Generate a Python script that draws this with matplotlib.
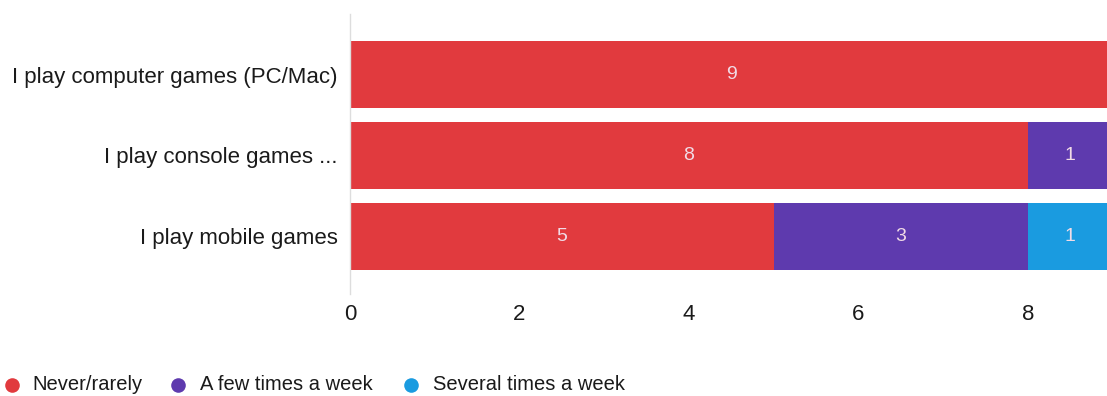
import matplotlib
matplotlib.use("Agg")
import matplotlib.pyplot as plt
from matplotlib.lines import Line2D

categories = ["I play computer games (PC/Mac)", "I play console games ...", "I play mobile games"]
series_names = ["Never/rarely", "A few times a week", "Several times a week"]
never = [9, 8, 5]
few = [0, 1, 3]
several = [0, 0, 1]
colors = ["#E13A3E", "#5E3AAE", "#1A9BE0"]
xticks = [0, 2, 4, 6, 8]

plt.rcParams['font.family'] = ['Liberation Sans', 'DejaVu Sans']

W, H = 1107, 396
fig = plt.figure(figsize=(W/100, H/100), dpi=100)
ax = fig.add_axes([350/W, 1 - 294/H, (W-350)/W, 280/H])

ypos = list(range(len(categories)))
left = [0]*len(categories)
for vals, col in zip([never, few, several], colors):
    ax.barh(ypos, vals, left=left, height=0.83, color=col, edgecolor='none')
    for y, v, l in zip(ypos, vals, left):
        if v > 0:
            ax.text(l + v/2, y, str(v), ha='center', va='center', color='#f1dbe6', fontsize=14)
    left = [a + b for a, b in zip(left, vals)]

ax.set_xlim(0, (W-350)/84.75)
ax.set_ylim(2.71, -0.747)
ax.set_yticks(ypos)
ax.set_yticklabels(categories, fontsize=16, color='#1a1a1a')
ax.set_xticks(xticks)
ax.set_xticklabels([str(t) for t in xticks], fontsize=16, color='#1a1a1a')
ax.tick_params(axis='both', length=0)
ax.tick_params(axis='y', pad=9)
ax.tick_params(axis='x', pad=7)
for s in ['top', 'right', 'bottom']:
    ax.spines[s].set_visible(False)
ax.spines['left'].set_color('#dddddd')
ax.spines['left'].set_linewidth(1)

# legend (manual layout)
marker_x = [12, 178, 411]
text_x = [32, 200, 433]
ly = 1 - 385/H
for mx, tx, c, name in zip(marker_x, text_x, colors, series_names):
    fig.add_artist(Line2D([mx/W], [ly], transform=fig.transFigure, marker='o', linestyle='none',
                          markersize=10.5, markerfacecolor=c, markeredgecolor='none'))
    fig.text(tx/W, ly, name, ha='left', va='center', fontsize=14.5, color='#1a1a1a')

fig.savefig("out.png", dpi=100)
